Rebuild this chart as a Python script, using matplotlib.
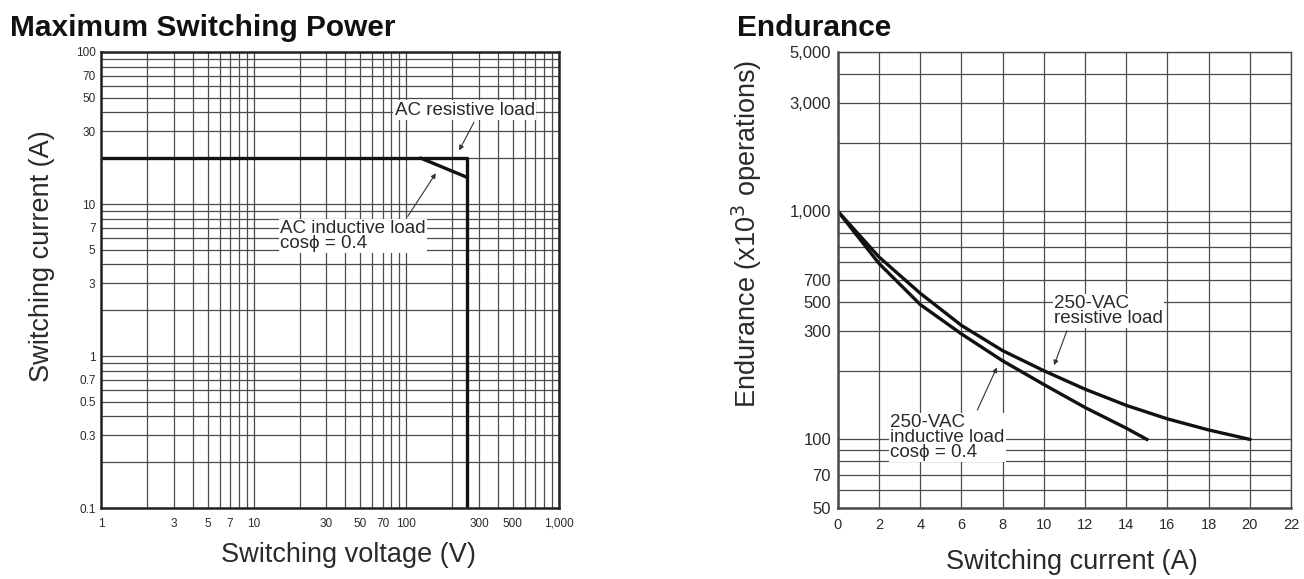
import numpy as np
import matplotlib.pyplot as plt
from matplotlib.ticker import FixedLocator, LogLocator, NullFormatter

plt.rcParams['font.family'] = ['Liberation Sans', 'DejaVu Sans']

# ---- Maximum Switching Power data ----
res_volt = [1, 250, 250]
res_curr = [20, 20, 0.1]
ind_volt = [125, 250]
ind_curr = [20, 15]

left_xticks = [1, 3, 5, 7, 10, 30, 50, 70, 100, 300, 500, 1000]
left_xlabels = ['1', '3', '5', '7', '10', '30', '50', '70', '100', '300', '500', '1,000']
left_yticks = [0.1, 0.3, 0.5, 0.7, 1, 3, 5, 7, 10, 30, 50, 70, 100]
left_ylabels = ['0.1', '0.3', '0.5', '0.7', '1', '3', '5', '7', '10', '30', '50', '70', '100']

# ---- Endurance data ----
res_x = [0, 2, 4, 6, 8, 10, 12, 14, 16, 18, 20]
res_y = [1000, 630, 437, 316, 245, 200, 166, 141, 123, 110, 100]
ind_x = [0, 2, 4, 6, 8, 10, 12, 14, 15]
ind_y = [1000, 590, 390, 290, 221, 174, 138, 112, 100]

# tick labels as printed on the original sheet
right_yticks = [50, 70, 100, 300, 400, 500, 1000, 3000, 5000]
right_ylabels = ['50', '70', '100', '300', '500', '700', '1,000', '3,000', '5,000']
right_xticks = list(range(0, 23, 2))

txt = '#2a2a2a'
grid_c = '#4a4a4a'

fig = plt.figure(figsize=(13.04, 5.79), dpi=100)
ax1 = fig.add_axes([0.0775, 0.1226, 0.351, 0.7876])
ax2 = fig.add_axes([0.6426, 0.1226, 0.3474, 0.7876])

fig.text(10 / 1304, 1 - 28 / 579, 'Maximum Switching Power', fontsize=21.5,
         fontweight='bold', color='#111', va='center', ha='left')
fig.text(737 / 1304, 1 - 28 / 579, 'Endurance', fontsize=21.5,
         fontweight='bold', color='#111', va='center', ha='left')

# left chart
ax1.set_xscale('log')
ax1.set_yscale('log')
ax1.set_xlim(1, 1000)
ax1.set_ylim(0.1, 100)
ax1.xaxis.set_major_locator(FixedLocator(left_xticks))
ax1.set_xticklabels(left_xlabels)
ax1.yaxis.set_major_locator(FixedLocator(left_yticks))
ax1.set_yticklabels(left_ylabels)
ax1.xaxis.set_minor_locator(LogLocator(base=10, subs=np.arange(1, 10)))
ax1.yaxis.set_minor_locator(LogLocator(base=10, subs=np.arange(1, 10)))
ax1.xaxis.set_minor_formatter(NullFormatter())
ax1.yaxis.set_minor_formatter(NullFormatter())
ax1.grid(which='minor', color=grid_c, lw=0.9)
ax1.grid(which='major', color=grid_c, lw=0.9)
ax1.tick_params(which='both', length=0, labelsize=8.5, colors=txt)
ax1.tick_params(axis='x', pad=7)
ax1.tick_params(axis='y', pad=4)
ax1.plot(res_volt, res_curr, color='#111', lw=2.4)
ax1.plot(ind_volt, ind_curr, color='#111', lw=2.4)
for s in ax1.spines.values():
    s.set_linewidth(1.8)
    s.set_color('#222')
ax1.set_xlabel('Switching voltage (V)', fontsize=19.5, color=txt)
ax1.set_ylabel('Switching current (A)', fontsize=19.5, color=txt)
ax1.xaxis.set_label_coords(0.54, -0.075)
ax1.yaxis.set_label_coords(-0.1, 0.553)

box = dict(facecolor='white', edgecolor='none', pad=1)
ax1.annotate('AC resistive load', xy=(218, 21.7), xytext=(242, 41.5),
             fontsize=13.5, color=txt, ha='center', va='center', bbox=box,
             arrowprops=dict(arrowstyle='-|>', color='#333', lw=0.8, mutation_scale=7,
                             relpos=(0.58, 0.0)))
ax1.annotate('AC inductive load\ncos\u03d5 = 0.4', xy=(160, 16.5), xytext=(14.9, 6.15),
             fontsize=13.5, color=txt, ha='left', va='center', bbox=box,
             linespacing=0.85,
             arrowprops=dict(arrowstyle='-|>', color='#333', lw=0.8, mutation_scale=7,
                             relpos=(0.86, 1.0)))

# right chart
ax2.set_yscale('log')
ax2.set_xlim(0, 22)
ax2.set_ylim(50, 5000)
ax2.xaxis.set_major_locator(FixedLocator(right_xticks))
ax2.yaxis.set_major_locator(FixedLocator(right_yticks))
ax2.set_yticklabels(right_ylabels)
ax2.yaxis.set_minor_locator(LogLocator(base=10, subs=np.arange(1, 10)))
ax2.yaxis.set_minor_formatter(NullFormatter())
ax2.grid(which='minor', axis='y', color=grid_c, lw=0.9)
ax2.grid(which='major', color=grid_c, lw=0.9)
ax2.tick_params(which='both', length=0, colors=txt)
ax2.tick_params(axis='y', labelsize=12, pad=5)
ax2.tick_params(axis='x', labelsize=10.5, pad=7)
ax2.plot(res_x, res_y, color='#111', lw=2.4)
ax2.plot(ind_x, ind_y, color='#111', lw=2.4)
for s in ax2.spines.values():
    s.set_linewidth(1.0)
    s.set_color(grid_c)
ax2.spines['left'].set_linewidth(1.8)
ax2.spines['bottom'].set_linewidth(1.8)
ax2.set_xlabel('Switching current (A)', fontsize=19.5, color=txt)
ax2.set_ylabel('Endurance (x10$^3$ operations)', fontsize=19.5, color=txt)
ax2.xaxis.set_label_coords(0.517, -0.09)
ax2.yaxis.set_label_coords(-0.163, 0.6)

ax2.annotate('250-VAC\nresistive load', xy=(10.45, 206), xytext=(10.5, 366),
             fontsize=13.5, color=txt, ha='left', va='center', bbox=box, linespacing=0.85,
             arrowprops=dict(arrowstyle='-|>', color='#333', lw=0.8, mutation_scale=7,
                             relpos=(0.13, 0.0)))
ax2.annotate('250-VAC\ninductive load\ncos\u03d5 = 0.4', xy=(7.77, 212), xytext=(2.52, 102),
             fontsize=13.5, color=txt, ha='left', va='center', bbox=box, linespacing=0.85,
             arrowprops=dict(arrowstyle='-|>', color='#333', lw=0.8, mutation_scale=7,
                             relpos=(0.75, 1.0)))

fig.savefig('out.png', dpi=100, facecolor='white')
